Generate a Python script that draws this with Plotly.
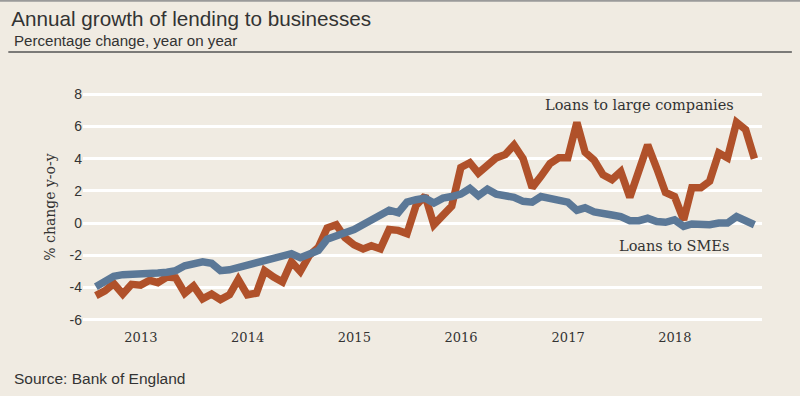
import pandas as pd
import plotly.graph_objects as go

# Monthly observations, Jul 2012 - Sep 2018 (month-end)
months = pd.date_range(start="2012-07-31", periods=75, freq=pd.offsets.MonthEnd())

large_companies = [
    -4.5, -4.2, -3.75, -4.4, -3.8, -3.85, -3.55, -3.7, -3.35, -3.4,
    -4.35, -3.9, -4.7, -4.4, -4.75, -4.45, -3.5, -4.45, -4.35, -2.95,
    -3.35, -3.65, -2.4, -3.0, -2.0, -1.5, -0.3, -0.1, -0.9, -1.35,
    -1.6, -1.4, -1.6, -0.4, -0.45, -0.65, 1.1, 1.7, -0.1, 0.45,
    1.05, 3.45, 3.75, 3.1, 3.65, 4.05, 4.25, 4.85, 4.0, 2.2,
    2.9, 3.7, 4.05, 4.05, 6.25, 4.4, 3.9, 3.0, 2.7, 3.2,
    1.6, 3.3, 4.85, 3.4, 1.9, 1.65, 0.2, 2.2, 2.2, 2.6,
    4.35, 4.05, 6.25, 5.8, 4.0,
]

smes = [
    -3.95, -3.55, -3.3, -3.2, -3.2, -3.2, -3.1, -3.1, -3.05, -2.95,
    -2.65, -2.5, -2.4, -2.5, -2.95, -2.9, -2.75, -2.7, -2.45, -2.3,
    -2.15, -2.05, -1.9, -2.15, -1.95, -1.7, -1.0, -0.75, -0.6, -0.4,
    -0.1, 0.2, 0.5, 0.8, 0.65, 1.3, 1.45, 1.55, 1.25, 1.55,
    1.65, 1.8, 2.15, 1.7, 2.1, 1.8, 1.7, 1.6, 1.35, 1.3,
    1.65, 1.55, 1.45, 1.3, 0.8, 0.95, 0.7, 0.55, 0.5, 0.4,
    0.15, 0.15, 0.3, 0.1, 0.05, 0.2, -0.2, -0.05, -0.1, -0.1,
    0.0, 0.0, 0.4, 0.1, -0.1,
]

year_ticks = ["2013-01-01", "2014-01-01", "2015-01-01", "2016-01-01", "2017-01-01", "2018-01-01"]
year_labels = ["2013", "2014", "2015", "2016", "2017", "2018"]
y_ticks = [8, 6, 4, 2, 0, -2, -4, -6]
y_labels = ["8", "6", "4", "2", "0", "-2", "-4", "-6"]

BG = "#F0EBE2"
ORANGE = "#B0512A"
BLUE = "#5B7897"
TXT = "#333333"
SERIF = "DejaVu Serif"
SANS = "Liberation Sans"

fig = go.Figure()
fig.add_trace(go.Scatter(x=months, y=large_companies, mode="lines",
                         line=dict(color=ORANGE, width=7.5), name="Loans to large companies",
                         hoverinfo="skip"))
fig.add_trace(go.Scatter(x=months, y=smes, mode="lines",
                         line=dict(color=BLUE, width=7.5), name="Loans to SMEs",
                         hoverinfo="skip"))

fig.update_layout(
    width=800, height=396,
    paper_bgcolor=BG, plot_bgcolor=BG,
    showlegend=False,
    margin=dict(l=83, r=38, t=91, b=73, autoexpand=False),
    title=dict(text="Annual growth of lending to businesses",
               font=dict(family=SANS, size=20.7, color=TXT),
               x=0.014, xanchor="left", xref="container",
               y=0.952, yanchor="middle", yref="container"),
    xaxis=dict(range=["2012-06-17", "2018-10-26"], showgrid=False, zeroline=False,
               showline=False, ticks="", tickvals=year_ticks, ticktext=year_labels,
               ticklabelstandoff=5, automargin=False,
               tickfont=dict(family=SERIF, size=13, color=TXT)),
    yaxis=dict(range=[-6.2, 8.2], tickvals=y_ticks, ticktext=y_labels, showgrid=True,
               gridcolor="white", gridwidth=3, zeroline=False, showline=False, ticks="",
               automargin=False,
               tickfont=dict(family=SANS, size=14, color=TXT),
               title=dict(text="% change y-o-y", font=dict(family=SERIF, size=14, color=TXT),
                          standoff=10)),
)

fig.add_annotation(text="Percentage change, year on year", xref="paper", yref="paper",
                   x=-0.1046, y=1.216, xanchor="left", yanchor="middle", showarrow=False,
                   font=dict(family=SANS, size=15.1, color=TXT))
fig.add_annotation(text="Source: Bank of England", xref="paper", yref="paper",
                   x=-0.1046, y=-0.241, xanchor="left", yanchor="middle", showarrow=False,
                   font=dict(family=SANS, size=15.5, color=TXT))
fig.add_annotation(text="Loans to large companies", xref="paper", yref="paper",
                   x=0.819, y=0.94, xanchor="center", yanchor="middle", showarrow=False,
                   font=dict(family=SERIF, size=14.5, color=TXT))
fig.add_annotation(text="Loans to SMEs", xref="paper", yref="paper",
                   x=0.870, y=0.332, xanchor="center", yanchor="middle", showarrow=False,
                   font=dict(family=SERIF, size=14.5, color=TXT))

fig.add_shape(type="line", xref="paper", yref="paper", x0=-0.110, x1=1.044,
              y0=1.168, y1=1.168, line=dict(color="#555555", width=1.5))
fig.add_shape(type="line", xref="paper", yref="paper", x0=-0.13, x1=1.07,
              y0=1.389, y1=1.389, line=dict(color="#9A9A9A", width=2))

fig.write_html("out.html",
               config={"displayModeBar": False},
               post_script="document.body.style.margin='0';document.body.style.background='%s';" % BG)
